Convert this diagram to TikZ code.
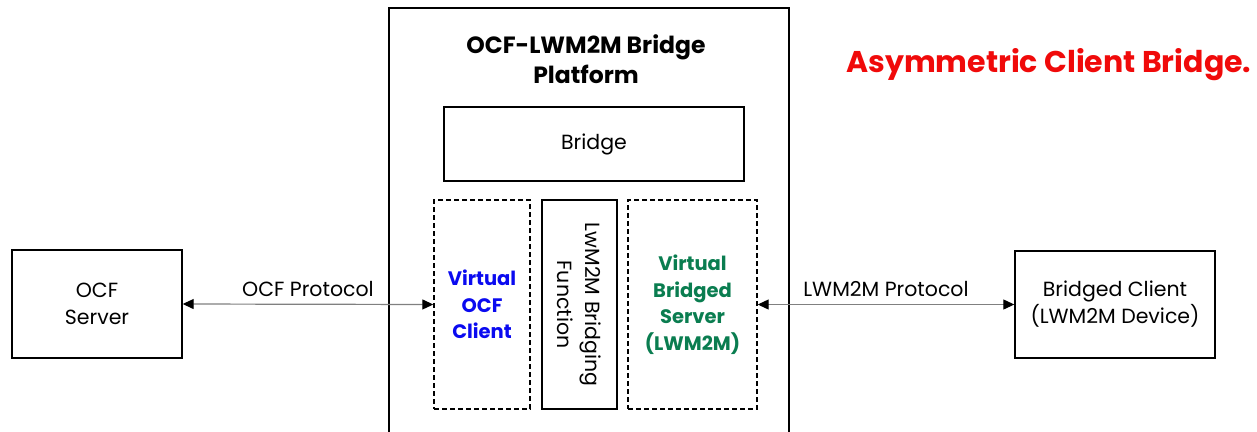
\documentclass[tikz,border=0pt]{standalone}
\usepackage{fontspec}
\setmainfont{Poppins}
\usetikzlibrary{arrows.meta}
\definecolor{vblue}{RGB}{10,10,240}
\definecolor{vgreen}{RGB}{10,125,80}
\definecolor{tred}{RGB}{240,10,10}
\begin{document}
\begin{tikzpicture}[x=1pt,y=-1pt,
  box/.style={draw,line width=1.4pt,inner sep=0pt,align=center,font=\fontsize{20.5}{27}\selectfont},
  dbox/.style={box,dashed,dash pattern=on 5pt off 3pt},
  arr/.style={draw=gray,line width=1.2pt,{Triangle[length=11pt,width=10pt,color=black]}-{Triangle[length=11pt,width=10pt,color=black]}},
  lbl/.style={font=\fontsize{20.5}{28}\selectfont,inner sep=0pt}]
\useasboundingbox (0,0) rectangle (1257,431);
\node[box,minimum width=400pt,minimum height=432pt] (plat) at (589,224) {};
\node[font=\bfseries\fontsize{23.5}{30}\selectfont,align=center,inner sep=0pt] (ptitle) at (586,59) {OCF-LWM2M Bridge\\Platform};
\node[box,minimum width=300pt,minimum height=74pt] (bridge) at (594,144) {Bridge};
\node[dbox,minimum width=96pt,minimum height=209pt,text=vblue,font=\bfseries\fontsize{19.5}{26.5}\selectfont] (voc) at (482,304.5) {Virtual\\OCF\\Client};
\node[box,minimum width=75pt,minimum height=209pt] (bf) at (579.5,304.5) {};
\node[lbl,rotate=-90,align=center] (bft) at (bf) {LwM2M Bridging\\Function};
\node[dbox,minimum width=129pt,minimum height=209pt,text=vgreen,font=\bfseries\fontsize{19.5}{26.5}\selectfont] (vbs) at (692.5,304.5) {Virtual\\Bridged\\Server\\(LWM2M)};
\node[box,minimum width=170pt,minimum height=108pt] (ocfs) at (97,304) {OCF\\Server};
\node[box,minimum width=200pt,minimum height=107pt] (bc) at (1115,304.5) {Bridged Client\\(LWM2M Device)};
\draw[arr] (ocfs.east) -- (voc.west) node[lbl,midway,above=7pt] (l1) {OCF Protocol};
\draw[arr] (vbs.east) -- (bc.west) node[lbl,midway,above=7pt] (l2) {LWM2M Protocol};
\node[text=tred,font=\bfseries\fontsize{30}{32}\selectfont,anchor=west,inner sep=0pt] (ttl) at (846,65) {Asymmetric Client Bridge.};
\end{tikzpicture}
\end{document}
